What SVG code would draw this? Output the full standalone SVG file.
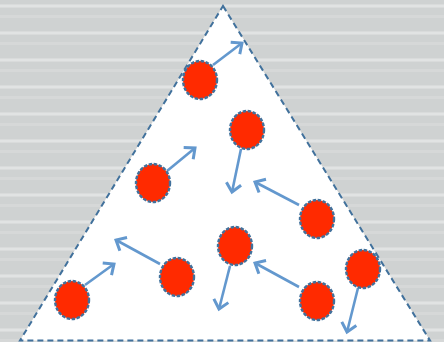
<svg xmlns="http://www.w3.org/2000/svg" width="444" height="342" viewBox="0 0 444 342">
<defs>
<style>
.p{fill:#FF2A00;stroke:#41719C;stroke-width:2.4;stroke-dasharray:3.5 1.5}
.a{stroke:#6398CE;stroke-width:2.6;fill:none;marker-end:url(#h)}
</style>
<pattern id="bg" width="444" height="27" patternUnits="userSpaceOnUse">
<rect width="444" height="27" fill="#CFD2D2"/>
<rect y="4" width="444" height="4" fill="#D9DBDB"/>
<rect y="5" width="444" height="2" fill="#E1E3E3"/>
<rect y="15" width="444" height="3" fill="#D6D8D8"/>
</pattern>
<marker id="h" markerWidth="20" markerHeight="20" refX="10" refY="10" orient="auto" markerUnits="userSpaceOnUse">
<path d="M1.5 2.5 L10 10 L1.5 17.5" fill="none" stroke="#6398CE" stroke-width="3" stroke-linejoin="miter"/>
</marker>
</defs>
<rect width="444" height="342" fill="url(#bg)"/>
<path d="M223 6 L430 340.5 L20 340.5 Z" fill="#FFFFFF" stroke="#41719C" stroke-width="2" stroke-dasharray="6 4"/>
<g id="connectors">
<line class="a" x1="213" y1="65" x2="242" y2="43"/>
<line class="a" x1="241" y1="149" x2="232" y2="192"/>
<line class="a" x1="167" y1="171" x2="195" y2="148"/>
<line class="a" x1="299" y1="205" x2="255" y2="182"/>
<line class="a" x1="230" y1="266" x2="219" y2="309"/>
<line class="a" x1="160" y1="264" x2="116" y2="240"/>
<line class="a" x1="85" y1="285" x2="114" y2="264"/>
<line class="a" x1="299" y1="287" x2="255" y2="263"/>
<line class="a" x1="358" y1="288" x2="347" y2="332"/>
</g>
<g id="p1"><ellipse class="p" cx="200" cy="80" rx="17" ry="19"/></g>
<g id="p2"><ellipse class="p" cx="247" cy="130" rx="17" ry="19"/></g>
<g id="p3"><ellipse class="p" cx="153" cy="183" rx="17" ry="19"/></g>
<g id="p4"><ellipse class="p" cx="317" cy="219" rx="17" ry="19"/></g>
<g id="p5"><ellipse class="p" cx="235" cy="246" rx="17" ry="19"/></g>
<g id="p6"><ellipse class="p" cx="177" cy="277" rx="17" ry="19"/></g>
<g id="p7"><ellipse class="p" cx="72" cy="300" rx="17" ry="19"/></g>
<g id="p8"><ellipse class="p" cx="317" cy="301" rx="17" ry="19"/></g>
<g id="p9"><ellipse class="p" cx="363" cy="269" rx="17" ry="19"/></g>
</svg>
